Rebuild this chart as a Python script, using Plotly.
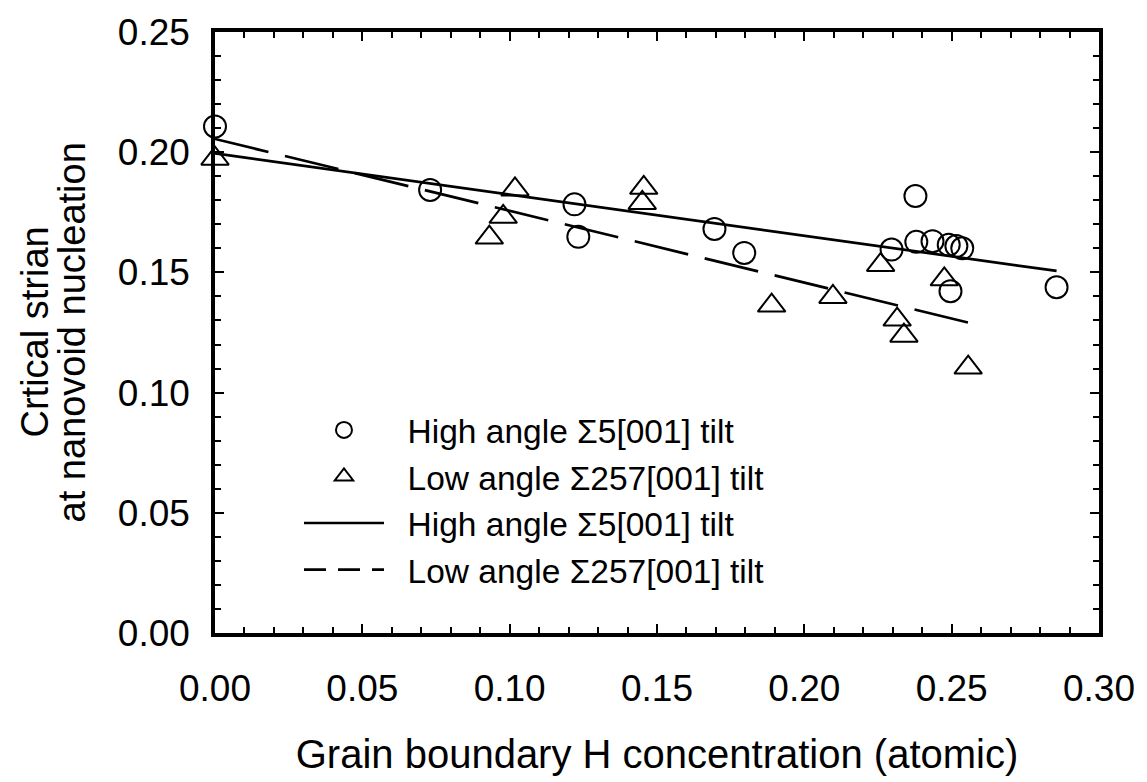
import plotly.graph_objects as go

# High angle Σ5[001] tilt (circles)
high_x = [0.000, 0.073, 0.122, 0.1233, 0.1695, 0.1796, 0.2296, 0.2377, 0.238, 0.2435, 0.249, 0.2516, 0.2536, 0.2496, 0.2856]
high_y = [0.2107, 0.1843, 0.1783, 0.1648, 0.1681, 0.1581, 0.1595, 0.1818, 0.1627, 0.163, 0.1615, 0.161, 0.160, 0.1422, 0.1438]

# Low angle Σ257[001] tilt (triangles)
low_x = [0.000, 0.0931, 0.0978, 0.1018, 0.1455, 0.145, 0.1889, 0.2097, 0.2259, 0.2315, 0.2338, 0.2475, 0.2556]
low_y = [0.1973, 0.1645, 0.1731, 0.1845, 0.1852, 0.1789, 0.1362, 0.1398, 0.1531, 0.1304, 0.1237, 0.1471, 0.1104]

# Linear fits
high_fit_x = [0.0, 0.2856]
high_fit_y = [0.1995, 0.1506]
low_fit_x = [0.0, 0.256]
low_fit_y = [0.2055, 0.129]

x_ticks = [0.00, 0.05, 0.10, 0.15, 0.20, 0.25, 0.30]
y_ticks = [0.00, 0.05, 0.10, 0.15, 0.20, 0.25]

y_title_lines = ["Crtical strian", "at nanovoid nucleation"]
x_title = "Grain boundary H concentration (atomic)"

FONT = "Arial, Liberation Sans, sans-serif"
PAD = "\u00a0\u00a0"
label_high = "High angle \u03a35[001] tilt"
label_low = "Low angle \u03a3257[001] tilt"

fig = go.Figure()
fig.add_trace(go.Scatter(
    x=high_x, y=high_y, mode="markers", name=PAD + label_high,
    marker=dict(symbol="circle-open", size=22, color="black", line=dict(width=2, color="black")),
    cliponaxis=False))
fig.add_trace(go.Scatter(
    x=low_x, y=low_y, mode="markers", name=PAD + label_low,
    marker=dict(symbol="triangle-up-open", size=24, color="black", line=dict(width=2, color="black")),
    cliponaxis=False))
fig.add_trace(go.Scatter(
    x=high_fit_x, y=high_fit_y, mode="lines", name=PAD + label_high,
    line=dict(color="black", width=2.7)))
fig.add_trace(go.Scatter(
    x=low_fit_x, y=low_fit_y, mode="lines", name=PAD + label_low, showlegend=False,
    line=dict(color="black", width=2.7, dash="55px,17px")))
# legend sample for the dashed fit
fig.add_trace(go.Scatter(
    x=[None], y=[None], mode="lines", name=PAD + label_low,
    line=dict(color="black", width=2.7, dash="22px,12px")))

axis_common = dict(
    showgrid=False, zeroline=False, showline=True, linecolor="black", linewidth=3.5,
    mirror="allticks", ticks="inside", ticklen=9, tickwidth=1.5, tickcolor="black",
    tickfont=dict(family=FONT, size=37, color="black"),
    minor=dict(ticks="inside", ticklen=6, tickwidth=1.5, tickcolor="black", dtick=0.01),
)

fig.update_xaxes(
    range=[0, 0.30], tickvals=x_ticks, ticktext=[f"{v:.2f}" for v in x_ticks],
    title=dict(text=x_title, font=dict(family=FONT, size=40, color="black"), standoff=33),
    ticklabelstandoff=20,
    **axis_common)
fig.update_yaxes(
    range=[0, 0.25], tickvals=y_ticks, ticktext=[f"{v:.2f}" for v in y_ticks],
    ticklabelstandoff=14,
    **axis_common)

# two-line y-axis title
for txt, shift in zip(y_title_lines, [-181, -144]):
    fig.add_annotation(
        text=txt, xref="paper", yref="paper", x=0, y=0.5,
        xanchor="center", yanchor="middle", xshift=shift, textangle=-90,
        showarrow=False, font=dict(family=FONT, size=38, color="black"))

fig.update_layout(
    width=1147, height=782,
    margin=dict(l=215, r=40, t=29, b=129),
    paper_bgcolor="white", plot_bgcolor="white",
    font=dict(family=FONT, color="black"),
    legend=dict(
        x=0.095, y=0.385, xanchor="left", yanchor="top",
        bgcolor="rgba(0,0,0,0)", borderwidth=0,
        font=dict(family=FONT, size=33.5, color="black"),
        itemwidth=80, tracegroupgap=0,
    ),
)

fig.write_html(
    "out.html",
    config={"displayModeBar": False},
    post_script="document.body.style.margin='0';document.body.style.overflow='hidden';")
